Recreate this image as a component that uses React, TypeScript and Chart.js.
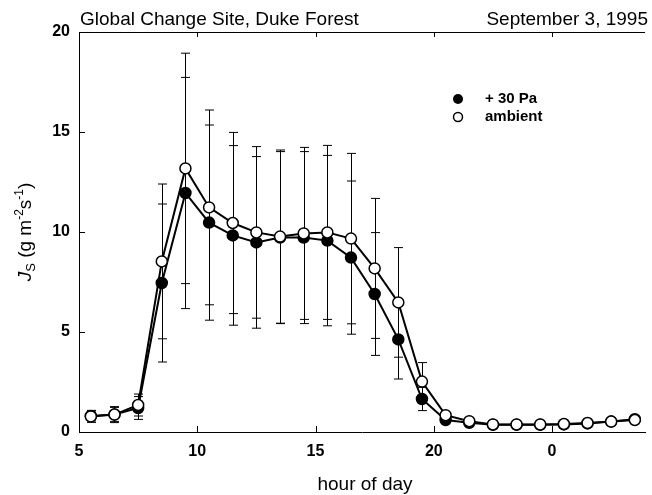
import { useEffect, useRef } from 'react';
import { Chart, registerables } from 'chart.js';

Chart.register(...registerables);

const FONT = '"Liberation Sans", Arial, Helvetica, sans-serif';

const hours = [5.5, 6.5, 7.5, 8.5, 9.5, 10.5, 11.5, 12.5, 13.5, 14.5, 15.5, 16.5, 17.5, 18.5, 19.5, 20.5, 21.5, 22.5, 23.5, 24.5, 25.5, 26.5, 27.5, 28.5];
const ambient = [0.78, 0.87, 1.35, 8.53, 13.18, 11.23, 10.45, 9.98, 9.77, 9.93, 9.98, 9.67, 8.18, 6.48, 2.52, 0.84, 0.54, 0.38, 0.38, 0.38, 0.4, 0.45, 0.52, 0.6];
const ambientErr = [0.3, 0.4, 0.55, 3.87, 5.76, 4.87, 4.53, 4.29, 4.33, 4.3, 4.35, 4.26, 3.5, 2.74, 0.95, 0.1, 0.08, 0.05, 0.05, 0.05, 0.05, 0.05, 0.05, 0.05];
const elevated = [0.8, 0.88, 1.2, 7.45, 11.95, 10.47, 9.83, 9.48, 9.72, 9.72, 9.57, 8.72, 6.9, 4.63, 1.65, 0.6, 0.46, 0.36, 0.36, 0.36, 0.38, 0.43, 0.52, 0.64];
const elevatedErr = [0.25, 0.35, 0.57, 3.95, 5.78, 4.88, 4.49, 4.29, 4.3, 4.3, 4.26, 3.83, 3.07, 1.98, 0.58, 0.1, 0.08, 0.05, 0.05, 0.05, 0.05, 0.05, 0.05, 0.05];

const xTicks = [5, 10, 15, 20, 25];
const xTickLabels = ['5', '10', '15', '20', '0'];
const yTicks = [0, 5, 10, 15, 20];

const titleLeft = 'Global Change Site, Duke Forest';
const titleRight = 'September 3, 1995';
const xTitle = 'hour of day';
const legendLabels = ['+ 30 Pa', 'ambient'];

const errorBarPlugin = {
  id: 'errorBars',
  beforeDatasetsDraw(chart: any) {
    const { ctx, scales } = chart;
    const x = scales.x;
    const y = scales.y;
    ctx.save();
    ctx.strokeStyle = '#000';
    ctx.lineWidth = 1;
    const sets: [number[], number[]][] = [
      [elevated, elevatedErr],
      [ambient, ambientErr],
    ];
    for (const [vals, errs] of sets) {
      for (let i = 0; i < hours.length; i++) {
        const e = errs[i];
        if (!e) continue;
        const px = Math.round(x.getPixelForValue(hours[i])) + 0.5;
        const t = y.getPixelForValue(vals[i] + e);
        const b = y.getPixelForValue(Math.max(0, vals[i] - e));
        ctx.beginPath();
        ctx.moveTo(px, t);
        ctx.lineTo(px, b);
        ctx.moveTo(px - 4.5, t);
        ctx.lineTo(px + 4.5, t);
        ctx.moveTo(px - 4.5, b);
        ctx.lineTo(px + 4.5, b);
        ctx.stroke();
      }
    }
    ctx.restore();
  },
};

const decorPlugin = {
  id: 'decor',
  afterDraw(chart: any) {
    const { ctx, chartArea, scales } = chart;
    const x = scales.x;
    const y = scales.y;
    ctx.save();
    ctx.strokeStyle = '#000';
    ctx.lineWidth = 1;
    // top frame
    ctx.beginPath();
    ctx.moveTo(chartArea.left, chartArea.top + 0.5);
    ctx.lineTo(chartArea.right, chartArea.top + 0.5);
    ctx.stroke();
    // inner ticks
    ctx.beginPath();
    for (const v of xTicks) {
      const px = Math.round(x.getPixelForValue(v)) + 0.5;
      ctx.moveTo(px, chartArea.bottom);
      ctx.lineTo(px, chartArea.bottom - 6);
      ctx.moveTo(px, chartArea.top);
      ctx.lineTo(px, chartArea.top + 5);
    }
    for (const v of yTicks) {
      const py = Math.round(y.getPixelForValue(v)) + 0.5;
      ctx.moveTo(chartArea.left, py);
      ctx.lineTo(chartArea.left + 6, py);
    }
    ctx.stroke();

    // titles
    ctx.fillStyle = '#000';
    ctx.font = `19px ${FONT}`;
    ctx.textBaseline = 'alphabetic';
    ctx.textAlign = 'left';
    ctx.fillText(titleLeft, 80, 25);
    ctx.textAlign = 'right';
    ctx.fillText(titleRight, 648, 25);
    ctx.textAlign = 'center';
    ctx.fillText(xTitle, 365, 490);

    // legend
    ctx.beginPath();
    ctx.arc(458, 99, 5, 0, Math.PI * 2);
    ctx.fill();
    ctx.beginPath();
    ctx.arc(458, 117, 4.5, 0, Math.PI * 2);
    ctx.fillStyle = '#fff';
    ctx.fill();
    ctx.lineWidth = 1.5;
    ctx.stroke();
    ctx.fillStyle = '#000';
    ctx.font = `bold 15px ${FONT}`;
    ctx.textAlign = 'left';
    ctx.textBaseline = 'middle';
    ctx.fillText(legendLabels[0], 485, 99);
    ctx.fillText(legendLabels[1], 485, 117);

    // y-axis title (rotated)
    ctx.translate(24, 232);
    ctx.rotate(-Math.PI / 2);
    ctx.textBaseline = 'alphabetic';
    ctx.textAlign = 'left';
    const parts: { t: string; f: string; dy: number }[] = [
      { t: 'J', f: `italic 19px ${FONT}`, dy: 0 },
      { t: 'S', f: `13px ${FONT}`, dy: 4 },
      { t: ' (g m', f: `19px ${FONT}`, dy: 0 },
      { t: '-2', f: `12px ${FONT}`, dy: -8 },
      { t: 's', f: `19px ${FONT}`, dy: 0 },
      { t: '-1', f: `12px ${FONT}`, dy: -8 },
      { t: ')', f: `19px ${FONT}`, dy: 0 },
    ];
    let total = 0;
    for (const p of parts) {
      ctx.font = p.f;
      total += ctx.measureText(p.t).width;
    }
    let cx = -total / 2;
    for (const p of parts) {
      ctx.font = p.f;
      ctx.fillText(p.t, cx, 7 + p.dy);
      cx += ctx.measureText(p.t).width;
    }
    ctx.restore();
  },
};

export default function App() {
  const ref = useRef<HTMLCanvasElement | null>(null);
  useEffect(() => {
    if (!ref.current) return;
    const chart = new Chart(ref.current, {
      type: 'line',
      data: {
        datasets: [
          {
            label: 'ambient',
            data: hours.map((h, i) => ({ x: h, y: ambient[i] })),
            borderColor: '#000',
            borderWidth: 2,
            backgroundColor: '#fff',
            pointBackgroundColor: '#fff',
            pointBorderColor: '#000',
            pointBorderWidth: 1.5,
            pointRadius: 5.5,
            pointHoverRadius: 5.5,
            tension: 0,
            clip: false as any,
          },
          {
            label: '+ 30 Pa',
            data: hours.map((h, i) => ({ x: h, y: elevated[i] })),
            borderColor: '#000',
            borderWidth: 2,
            backgroundColor: '#000',
            pointBackgroundColor: '#000',
            pointBorderColor: '#000',
            pointBorderWidth: 1.5,
            pointRadius: 5.5,
            pointHoverRadius: 5.5,
            tension: 0,
            clip: false as any,
          },
        ],
      },
      options: {
        responsive: false,
        animation: false,
        devicePixelRatio: 1,
        layout: { padding: { top: 32, left: 0, right: 0, bottom: 0 } },
        plugins: {
          legend: { display: false },
          tooltip: { enabled: false },
          title: { display: false },
        },
        scales: {
          x: {
            type: 'linear',
            min: 5,
            max: 28.93,
            grid: { display: false },
            border: { display: true, color: '#000', width: 1 },
            afterBuildTicks: (scale: any) => {
              scale.ticks = xTicks.map((v) => ({ value: v }));
            },
            afterFit: (scale: any) => {
              scale.height = 63;
            },
            ticks: {
              autoSkip: false,
              maxRotation: 0,
              padding: 2,
              color: '#000',
              font: { family: FONT, size: 16, weight: 'bold' },
              callback: (v: any) => {
                const idx = xTicks.indexOf(Number(v));
                return idx >= 0 ? xTickLabels[idx] : '';
              },
            },
          },
          y: {
            type: 'linear',
            min: 0,
            max: 20,
            grid: { display: false },
            border: { display: true, color: '#000', width: 1 },
            afterBuildTicks: (scale: any) => {
              scale.ticks = yTicks.map((v) => ({ value: v }));
            },
            afterFit: (scale: any) => {
              scale.width = 79;
            },
            ticks: {
              padding: 1,
              color: '#000',
              font: { family: FONT, size: 16, weight: 'bold' },
            },
          },
        },
      },
      plugins: [errorBarPlugin, decorPlugin],
    } as any);
    return () => chart.destroy();
  }, []);
  return (
    <div style={{ position: 'fixed', left: 0, top: 0, width: 652, height: 495, background: '#fff' }}>
      <canvas ref={ref} width={652} height={495} style={{ display: 'block', width: 652, height: 495 }} />
    </div>
  );
}
